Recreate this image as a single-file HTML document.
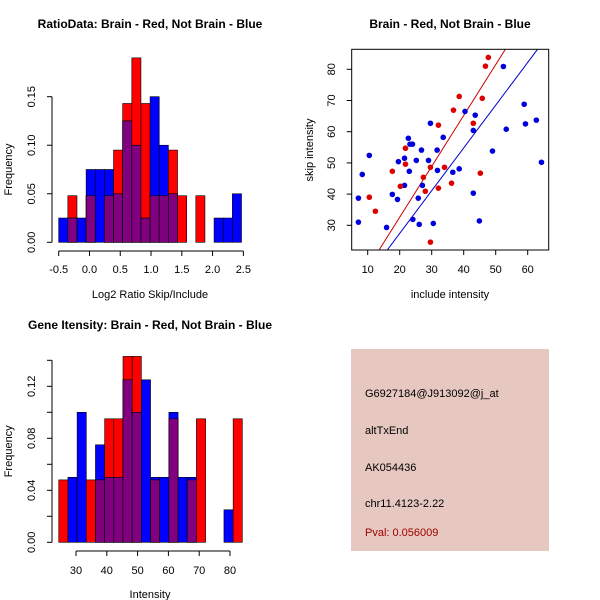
<!DOCTYPE html>
<html><head><meta charset="utf-8"><style>
body{margin:0;background:#fff}
svg{display:block;font-family:"Liberation Sans",sans-serif}
text{font-size:11px;fill:#000}
.t{font-weight:bold;font-size:12px}
</style></head><body>
<svg id="s" width="600" height="600">
<text class="t" x="150" y="28" text-anchor="middle">RatioData: Brain - Red, Not Brain - Blue</text>
<text class="t" x="450" y="28" text-anchor="middle">Brain - Red, Not Brain - Blue</text>
<text class="t" x="150" y="329" text-anchor="middle">Gene Itensity: Brain - Red, Not Brain - Blue</text>
<g id="g1"></g>
<g id="g2"></g>
<g id="g3"></g>
<rect x="351" y="349" width="198" height="202" fill="#e6c8c0"/>
<text x="365" y="397">G6927184@J913092@j_at</text>
<text x="365" y="434">altTxEnd</text>
<text x="365" y="471">AK054436</text>
<text x="365" y="507">chr11.4123-2.22</text>
<text x="365" y="536" style="fill:#a00000">Pval: 0.056009</text>
</svg>
<script>
const ratioRed  = [0,0.048,0,0.048,0,0.048,0.095,0.143,0.19,0.143,0.048,0.048,0.095,0.048,0,0.048,0,0,0,0];
const ratioBlue = [0.025,0.025,0.025,0.075,0.075,0.075,0.05,0.125,0.10,0.025,0.15,0.10,0.05,0,0,0,0,0.025,0.025,0.05];
const ratioXTicks = [-0.5,0.0,0.5,1.0,1.5,2.0,2.5];
const ratioXLabels = ["-0.5","0.0","0.5","1.0","1.5","2.0","2.5"];
const ratioYTicks = [0,0.05,0.10,0.15];
const intRed  = [0.048,0,0,0.048,0.048,0.095,0.095,0.143,0.143,0,0.048,0,0.095,0,0.048,0.095,0,0,0,0.095];
const intBlue = [0,0.05,0.10,0,0.075,0.05,0.05,0.125,0.10,0.125,0.05,0.05,0.10,0.05,0.05,0,0,0,0.025,0];
const intXTicks = [30,40,50,60,70,80];
const intXLabels = ["30","40","50","60","70","80"];
const intYTicks = [0,0.02,0.04,0.06,0.08,0.10,0.12,0.14];
const intYLabels = ["0.00","","0.04","","0.08","","0.12",""];
const blueX = [7.1,7.1,8.3,10.5,15.9,17.7,19.3,19.6,21.5,21.5,22.7,23.2,24.0,23.0,24.1,25.2,25.8,26.1,26.8,27.1,29.0,29.6,30.5,31.7,31.8,33.6,36.6,38.6,40.4,43.0,43.0,43.6,44.9,49.0,52.4,53.3,58.9,59.3,62.7,64.3];
const blueY = [38.7,31.0,46.3,52.4,29.3,39.9,38.3,50.4,51.5,42.8,57.9,56.0,56.0,47.3,31.9,50.8,38.7,30.3,54.1,42.8,50.8,62.7,30.6,54.1,47.6,58.2,47.0,48.1,66.5,40.3,60.4,65.3,31.4,53.8,80.9,60.8,68.8,62.5,63.7,50.2];
const redX = [10.5,12.4,17.7,20.2,21.8,21.8,27.4,28.0,29.6,29.6,32.1,32.1,34.0,36.2,36.8,38.6,43.0,45.2,45.8,46.8,47.7];
const redY = [39.0,34.5,47.3,42.5,54.7,49.6,45.4,40.9,48.6,24.6,62.1,41.9,48.6,43.5,66.9,71.3,62.7,46.7,70.7,81.0,83.8];
const redSlope = 1.63, blueSlope = 1.37;
const scXTicks = [10,20,30,40,50,60];
const scYTicks = [30,40,50,60,70,80];

const NS="http://www.w3.org/2000/svg";
function mk(p,tag,a){const e=document.createElementNS(NS,tag);for(const k in a)e.setAttribute(k,a[k]);p.appendChild(e);return e;}

function hist(g,red,blue,x0,bw,sx,sy,xt,xlab,yt,ylab,xtitle,axY,labY,titY,yLabX){
  for(let i=0;i<red.length;i++){
    const a=x0+i*bw,b=a+bw;
    const lay=[[red[i],'#ff0000','bar-red'],[blue[i],'#0000ff','bar-blue'],[Math.min(red[i],blue[i]),'#800080','bar-overlap']];
    for(const [v,c,n] of lay){ if(v<=0)continue;
      const r=mk(g,'rect',{x:sx(a),y:sy(v),width:sx(b)-sx(a),height:sy(0)-sy(v),fill:c,stroke:'#000','stroke-width':0.6});
      
      
    }
  }
  mk(g,'line',{x1:52,x2:52,y1:sy(yt[0]),y2:sy(yt[yt.length-1]),stroke:'#000'});
  yt.forEach((v,i)=>{mk(g,'line',{x1:47,x2:52,y1:sy(v),y2:sy(v),stroke:'#000'});
    const l=ylab[i]; if(l){const t=mk(g,'text',{x:yLabX,y:sy(v),transform:`rotate(-90 ${yLabX} ${sy(v)})`,'text-anchor':'middle'});t.textContent=l;
    
    }});
  mk(g,'line',{x1:sx(xt[0]),x2:sx(xt[xt.length-1]),y1:axY,y2:axY,stroke:'#000'});
  xt.forEach((v,i)=>{mk(g,'line',{x1:sx(v),x2:sx(v),y1:axY,y2:axY+5,stroke:'#000'});
    const t=mk(g,'text',{x:sx(v),y:labY,'text-anchor':'middle'});t.textContent=xlab[i];
    
    });
  const xt2=mk(g,'text',{x:150,y:titY,'text-anchor':'middle'});xt2.textContent=xtitle;
  
  
  const yc=(sy(yt[0])+sy(yt[yt.length-1]))/2;
  const yt2=mk(g,'text',{x:12,y:yc,transform:`rotate(-90 12 ${yc})`,'text-anchor':'middle'});yt2.textContent='Frequency';
  
  
}
const g1=document.getElementById('g1');
hist(g1,ratioRed,ratioBlue,-0.5,0.1485,v=>58.7+(v+0.5)*61.55,v=>242.3-v*970.7,ratioXTicks,ratioXLabels,ratioYTicks,
  ["0.00","0.05","0.10","0.15"],"Log2 Ratio Skip/Include",251,273,298,35);
const g3=document.getElementById('g3');
hist(g3,intRed,intBlue,24.4,2.98,v=>76+(v-30)*3.08,v=>542.3-v*1300,intXTicks,intXLabels,intYTicks,intYLabels,"Intensity",551,574,598,35);

const g2=document.getElementById('g2');
const sx=v=>367.7+(v-10)*3.2, sy=v=>225.3-(v-30)*3.12;
const L=351.7,R=548.7,T=49.3,B=250;
const clip=mk(g2,'clipPath',{id:'cp'});mk(clip,'rect',{x:L,y:T,width:R-L,height:B-T});
[[redSlope,'#cc0000','fit-line-red'],[blueSlope,'#0000cc','fit-line-blue']].forEach(([m,c,n])=>{
  const l=mk(g2,'line',{x1:sx(0),y1:sy(0),x2:sx(100),y2:sy(100*m),stroke:c,'clip-path':'url(#cp)'});
  
  
});
blueX.forEach((x,i)=>{const c=mk(g2,'circle',{cx:sx(x),cy:sy(blueY[i]),r:2.8,fill:'#0000dd'});
  
  });
redX.forEach((x,i)=>{const c=mk(g2,'circle',{cx:sx(x),cy:sy(redY[i]),r:2.8,fill:'#dd0000'});
  
  });
mk(g2,'rect',{x:L,y:T,width:R-L,height:B-T,fill:'none',stroke:'#000'});
scXTicks.forEach(v=>{mk(g2,'line',{x1:sx(v),x2:sx(v),y1:B,y2:B+5,stroke:'#000'});
  const t=mk(g2,'text',{x:sx(v),y:273,'text-anchor':'middle'});t.textContent=v;
  
  });
scYTicks.forEach(v=>{mk(g2,'line',{x1:L-5,x2:L,y1:sy(v),y2:sy(v),stroke:'#000'});
  const t=mk(g2,'text',{x:335,y:sy(v),transform:`rotate(-90 335 ${sy(v)})`,'text-anchor':'middle'});t.textContent=v;
  
  });
const xa=mk(g2,'text',{x:450,y:298,'text-anchor':'middle'});xa.textContent='include intensity';


const ya=mk(g2,'text',{x:313,y:150,transform:'rotate(-90 313 150)','text-anchor':'middle'});ya.textContent='skip intensity';


</script>
</body></html>
